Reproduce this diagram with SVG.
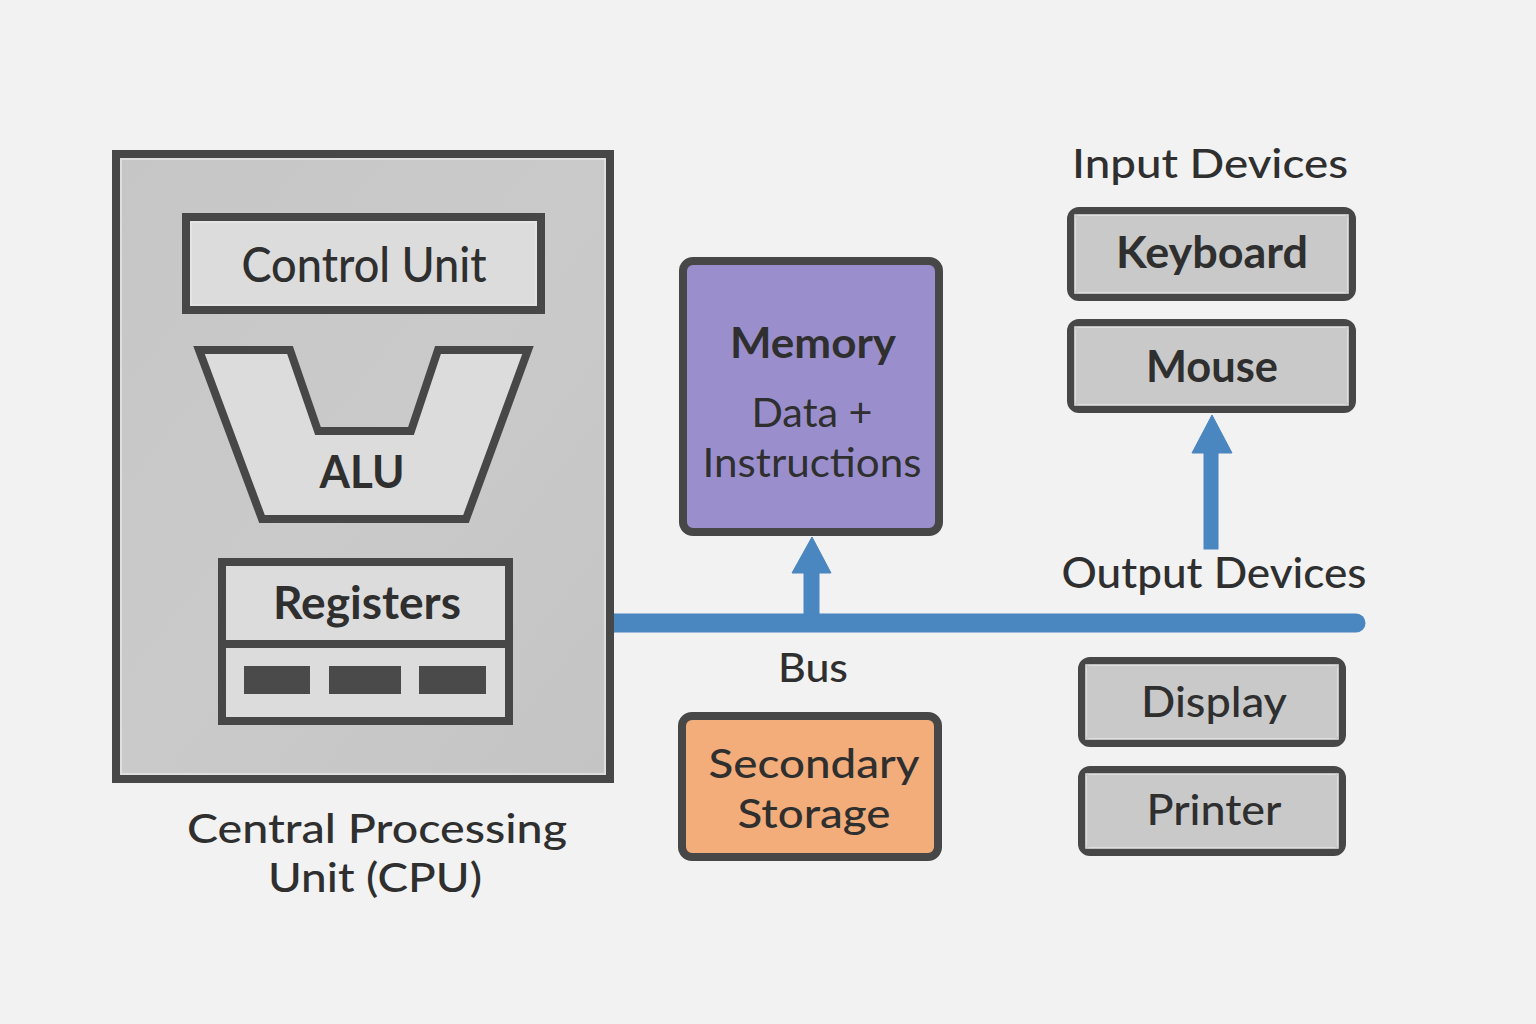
<svg xmlns="http://www.w3.org/2000/svg" width="1536" height="1024" viewBox="0 0 1536 1024">
<defs>
<style>
.t{font-family:Lato,"Noto Sans","Liberation Sans",sans-serif;fill:#2f2f2f;text-anchor:middle;font-weight:500}
.b{font-weight:700}
.r{font-weight:400}
.box{stroke:#474747;stroke-width:8}
.dev{fill:#c9c9c9;stroke:#474747;stroke-width:8}
.hl{fill:none;stroke:#e6e6e6;stroke-width:1.5}
.bus{stroke:#4a86c0;fill:#4a86c0}
</style>
<linearGradient id="cpuG" x1="0" y1="0" x2="1" y2="1">
<stop offset="0" stop-color="#c6c6c6"/><stop offset="0.5" stop-color="#cacaca"/><stop offset="1" stop-color="#c4c4c4"/>
</linearGradient>
</defs>
<rect width="1536" height="1024" fill="#f2f2f2"/>

<g id="connectors">
<line class="bus" x1="614" y1="623" x2="1356" y2="623" stroke-width="19" stroke-linecap="round"/>
<line x1="614" y1="613.5" x2="614" y2="632.5" stroke="#4a86c0" stroke-width="1"/>
<rect class="bus" x="804" y="570" width="15" height="45" stroke="none"/>
<polygon class="bus" points="812,537 792,573 831,573" stroke="none"/>
<rect class="bus" x="1204" y="450" width="14" height="99" stroke="none"/>
<polygon class="bus" points="1212,415 1192,453 1232,453" stroke="none"/>
</g>

<g id="cpu">
<rect class="box" x="116" y="154" width="494" height="625" fill="url(#cpuG)"/>
<rect class="hl" x="121" y="159" width="484" height="615"/>
<text class="t" x="377" y="843" font-size="40" textLength="380" lengthAdjust="spacingAndGlyphs">Central Processing</text>
<text class="t" x="375" y="892" font-size="40" textLength="214" lengthAdjust="spacingAndGlyphs">Unit (CPU)</text>
</g>

<g id="control-unit">
<rect class="box" x="186" y="217" width="355" height="93" fill="#dcdcdc"/>
<rect class="hl" x="191" y="222" width="345" height="83"/>
<text class="t" x="364" y="282" font-size="48" textLength="245" lengthAdjust="spacingAndGlyphs">Control Unit</text>
</g>

<g id="alu">
<polygon class="box" points="199,350 290,350 318,431 411,431 438,350 528,350 466,519 262,519" fill="#dcdcdc" stroke-linejoin="miter"/>
<text class="t b" x="362" y="488" font-size="46" textLength="85" lengthAdjust="spacingAndGlyphs">ALU</text>
</g>

<g id="registers">
<rect class="box" x="222" y="562" width="287" height="159" fill="#dcdcdc"/>
<line x1="222" y1="644" x2="509" y2="644" stroke="#474747" stroke-width="8"/>
<text class="t b" x="367" y="619" font-size="45" textLength="188" lengthAdjust="spacingAndGlyphs">Registers</text>
<rect x="244" y="666" width="66" height="28" fill="#4a4a4a"/>
<rect x="329" y="666" width="72" height="28" fill="#4a4a4a"/>
<rect x="419" y="666" width="67" height="28" fill="#4a4a4a"/>
</g>

<g id="memory">
<rect class="box" x="683" y="261" width="256" height="271" rx="10" fill="#9a8fcc"/>
<text class="t b" x="813" y="358" font-size="42" textLength="166" lengthAdjust="spacingAndGlyphs">Memory</text>
<text class="t r" x="812" y="427" font-size="41" textLength="121" lengthAdjust="spacingAndGlyphs">Data +</text>
<text class="t r" x="812" y="477" font-size="41" textLength="219" lengthAdjust="spacingAndGlyphs">Instructions</text>
</g>

<g id="bus-label">
<text class="t" x="813" y="682" font-size="40" textLength="70" lengthAdjust="spacingAndGlyphs">Bus</text>
</g>

<g id="secondary-storage">
<rect class="box" x="682" y="716" width="256" height="141" rx="10" fill="#f2ad7a"/>
<text class="t" x="814" y="778" font-size="41" textLength="211" lengthAdjust="spacingAndGlyphs">Secondary</text>
<text class="t" x="814" y="828" font-size="41" textLength="153" lengthAdjust="spacingAndGlyphs">Storage</text>
</g>

<g id="input-devices">
<text class="t" x="1210" y="178" font-size="40" textLength="276" lengthAdjust="spacingAndGlyphs">Input Devices</text>
</g>

<g id="keyboard">
<rect class="dev" x="1071" y="211" width="281" height="86" rx="8"/>
<rect class="hl" x="1075" y="215" width="273" height="78"/>
<text class="t b" x="1212" y="268" font-size="44" textLength="192" lengthAdjust="spacingAndGlyphs">Keyboard</text>
</g>

<g id="mouse">
<rect class="dev" x="1071" y="323" width="281" height="86" rx="8"/>
<rect class="hl" x="1075" y="327" width="273" height="78"/>
<text class="t b" x="1212" y="382" font-size="44" textLength="132" lengthAdjust="spacingAndGlyphs">Mouse</text>
</g>

<g id="output-devices">
<text class="t" x="1214" y="588" font-size="42" textLength="305" lengthAdjust="spacingAndGlyphs">Output Devices</text>
</g>

<g id="display">
<rect class="dev" x="1082" y="661" width="260" height="82" rx="8"/>
<rect class="hl" x="1086" y="665" width="252" height="74"/>
<text class="t" x="1214" y="717" font-size="43" textLength="146" lengthAdjust="spacingAndGlyphs">Display</text>
</g>

<g id="printer">
<rect class="dev" x="1082" y="770" width="260" height="82" rx="8"/>
<rect class="hl" x="1086" y="774" width="252" height="74"/>
<text class="t" x="1214" y="825" font-size="43" textLength="135" lengthAdjust="spacingAndGlyphs">Printer</text>
</g>
</svg>
